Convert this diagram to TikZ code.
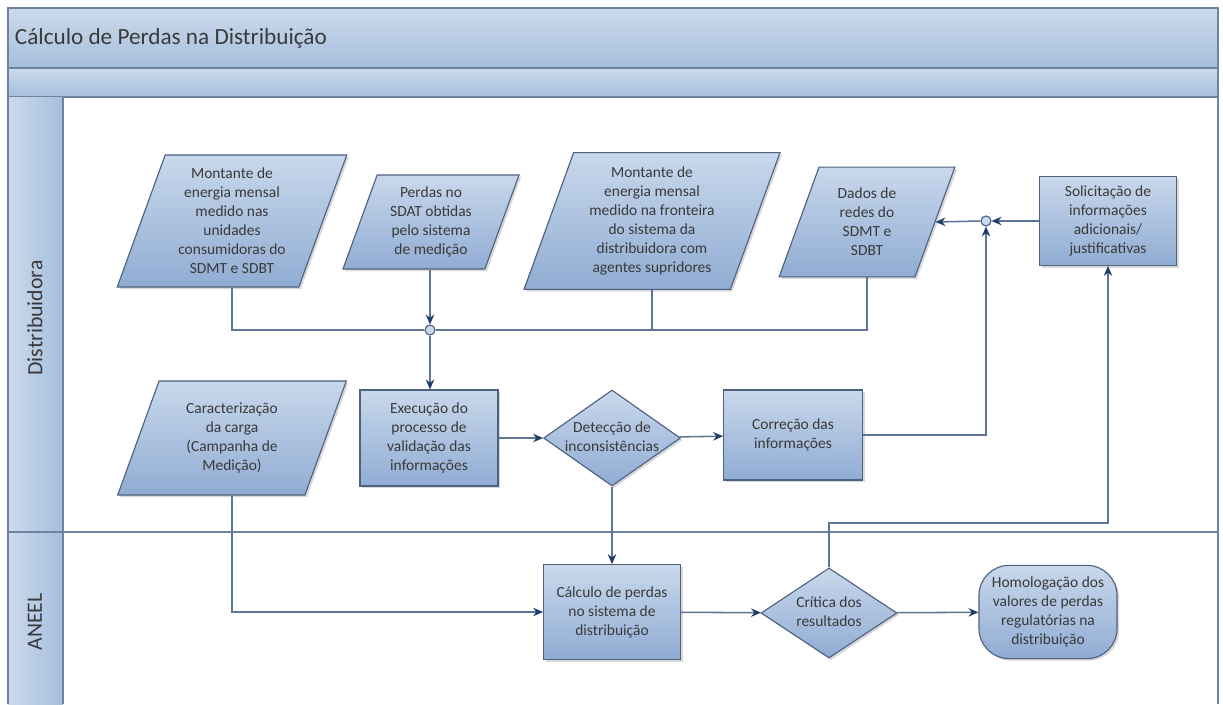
\documentclass[tikz,border=0pt]{standalone}
\usepackage{fontspec}
\setmainfont{Carlito}
\usetikzlibrary{shapes.geometric,arrows.meta,shadows}
\definecolor{txtgray}{HTML}{3A3A3A}
\definecolor{boxtop}{HTML}{C9D8EC}
\definecolor{boxbot}{HTML}{90ACD3}
\definecolor{boxline}{HTML}{4E6180}
\definecolor{linec}{HTML}{5F7595}
\definecolor{tipc}{HTML}{1F3D6B}
\definecolor{bartop}{HTML}{CCDAEC}
\definecolor{barbot}{HTML}{A6BEDC}
\definecolor{frame}{HTML}{6C83A2}
\newcommand\diatext[1]{\makebox[0pt]{\begin{tabular}{@{}c@{}}#1\end{tabular}}}

\begin{document}
\begin{tikzpicture}[x=0.025cm,y=-0.025cm,
  font=\fontsize{11}{13.5}\selectfont,
  every node/.style={text=txtgray},
  box/.style={draw=boxline, line width=0.8pt, top color=boxtop, bottom color=boxbot,
    align=center, inner sep=2pt,
    drop shadow={shadow xshift=1.5pt, shadow yshift=-1.5pt, fill=black!30}},
  datain/.style={box, trapezium, trapezium left angle=70, trapezium right angle=110},
  process/.style={box, rectangle},
  decision/.style={box, diamond, inner sep=0pt},
  joint/.style={circle, draw=boxline, fill=boxtop, line width=0.8pt, inner sep=0pt, minimum size=0.25cm},
  link/.style={draw=linec, line width=1.1pt},
  arrow/.style={link, -{Stealth[length=7pt, width=6pt, color=tipc]}}]
  \useasboundingbox (0,0) rectangle (1223,704);
  \fill[white] (0,0) rectangle (1223,704);

  % pool and lanes
  \shadedraw[top color=bartop, bottom color=barbot, draw=frame, line width=0.8pt] (8,8) rectangle (1218,68);
  \shadedraw[top color=bartop, bottom color=barbot, draw=frame, line width=0.8pt] (8,68) rectangle (1218,97);
  \shade[left color=bartop, right color=barbot] (8,97) rectangle (63,704);
  \draw[frame, line width=0.8pt] (8,97) -- (8,704) (63,97) -- (63,704) (1218,97) -- (1218,704);
  \draw[frame, line width=0.8pt] (8,532) -- (1218,532);
  \node[anchor=west, font=\fontsize{16.5}{19}\selectfont] (title) at (10,38) {Cálculo de Perdas na Distribuição};
  \node[rotate=90, font=\fontsize{15.5}{18}\selectfont] (lane1) at (35,318) {Distribuidora};
  \node[rotate=90, font=\fontsize{15.5}{18}\selectfont] (lane2) at (35,622) {ANEEL};

  % Distribuidora
  \node[datain, minimum width=5.6cm, minimum height=3.3cm] (mont1) at (232,221)
    {Montante de\\energia mensal\\medido nas\\unidades\\consumidoras do\\SDMT e SDBT};
  \node[datain, minimum width=4.4cm, minimum height=2.25cm] (sdat) at (431,222)
    {Perdas no\\SDAT obtidas\\pelo sistema\\de medição};
  \node[datain, minimum width=6.4cm, minimum height=3.3cm] (mont2) at (652,221)
    {Montante de\\energia mensal\\medido na fronteira\\do sistema da\\distribuidora com\\agentes supridores};
  \node[datain, minimum width=4.4cm, minimum height=2.25cm] (redes) at (867,222)
    {Dados de\\redes do\\SDMT e\\SDBT};
  \node[process, minimum width=3.42cm, minimum height=2.22cm] (solic) at (1108,221)
    {Solicitação de\\informações\\adicionais/\\justificativas};
  \node[joint] (j1) at (430,330) {};
  \node[joint] (j2) at (986,221) {};
  \node[datain, minimum width=5.4cm, minimum height=2.85cm] (carga) at (232,438)
    {Caracterização\\da carga\\(Campanha de\\Medição)};
  \node[process, minimum width=3.45cm, minimum height=2.4cm] (exec) at (429,438)
    {Execução do\\processo de\\validação das\\informações};
  \node[decision, minimum width=3.42cm, minimum height=2.4cm] (detec) at (612,438)
    {\diatext{Detecção de\\inconsistências}};
  \node[process, minimum width=3.47cm, minimum height=2.25cm] (corr) at (793,435)
    {Correção das\\informações};

  % ANEEL
  \node[process, minimum width=3.42cm, minimum height=2.37cm] (calc) at (612,612)
    {Cálculo de perdas\\no sistema de\\distribuição};
  \node[decision, minimum width=3.4cm, minimum height=2.25cm] (crit) at (829,613)
    {\diatext{Crítica dos\\resultados}};
  \node[process, rounded corners=0.75cm, minimum width=3.45cm, minimum height=2.33cm] (homol) at (1048,612)
    {Homologação dos\\valores de perdas\\regulatórias na\\distribuição};
  \coordinate (back) at (1108,523);

  % connectors
  \draw[link] (mont1.south -| mont1.center) |- (j1.west);
  \draw[link] (mont2.south -| mont2.center) |- (j1.east);
  \draw[link] (redes.south -| redes.center) |- (j1.east);
  \draw[arrow] (sdat.south -| j1) -- (j1.north);
  \draw[arrow] (j1.south) -- (exec.north -| j1);
  \draw[arrow] (exec) -- (detec);
  \draw[arrow] (detec) -- (corr);
  \draw[arrow] (detec) -- (calc);
  \draw[arrow] (corr.east) -| (j2.south);
  \draw[arrow] (solic.west) -- (j2.east);
  \draw[arrow] (j2.west) -- (redes.east);
  \draw[arrow] (carga.south -| carga.center) |- (calc.west);
  \draw[arrow] (calc) -- (crit);
  \draw[arrow] (crit) -- (homol);
  \draw[arrow] (crit.north) |- (back) -- (solic.south);
\end{tikzpicture}
\end{document}
